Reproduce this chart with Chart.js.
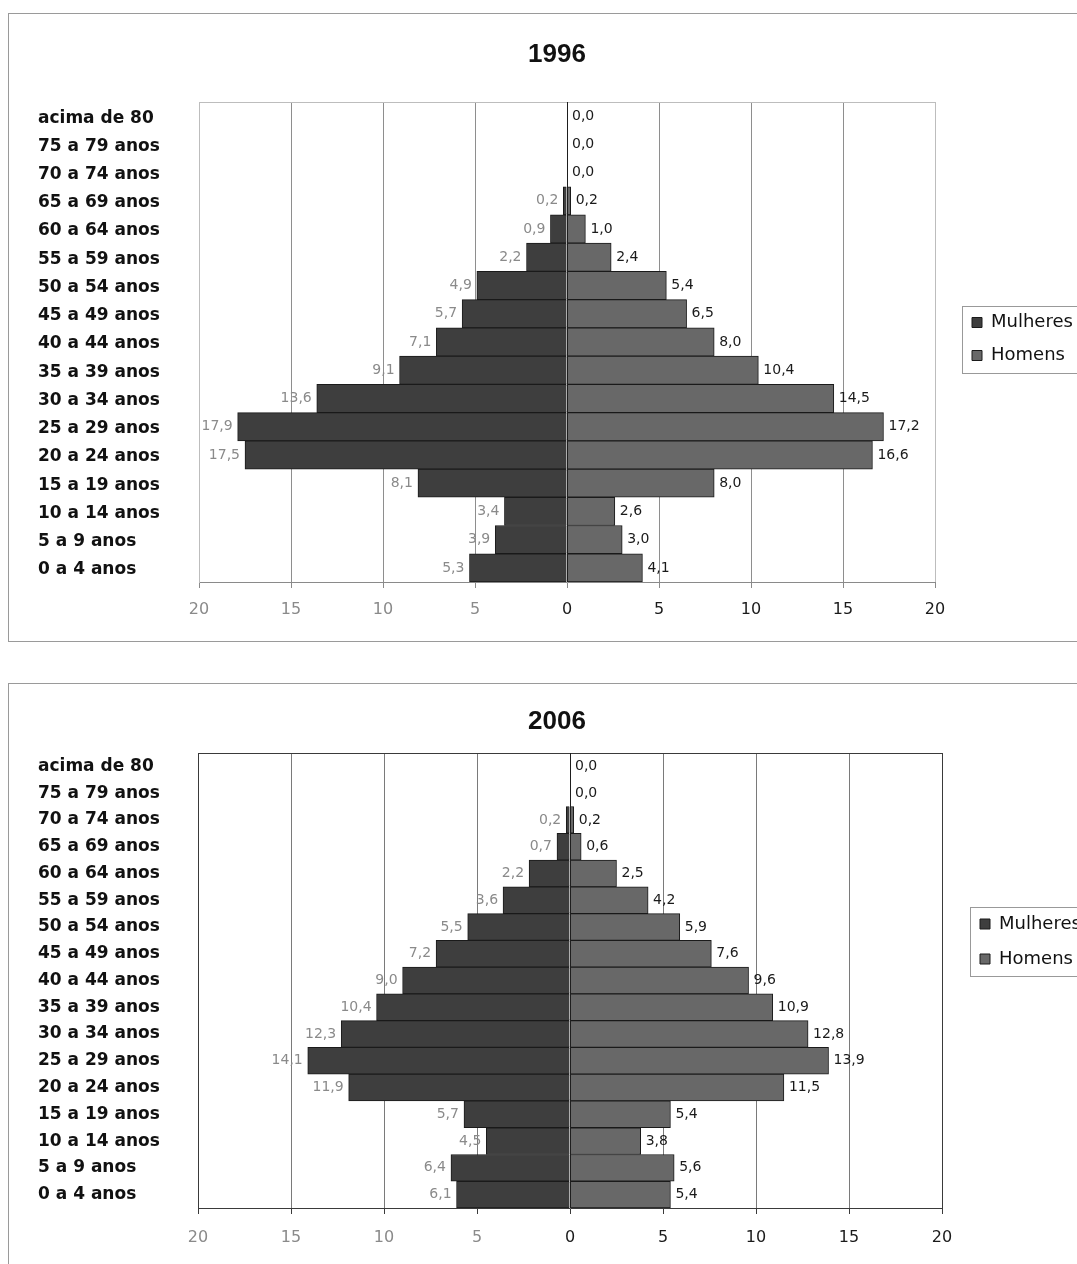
<!DOCTYPE html>
<html>
<head>
<meta charset="utf-8">
<script src="https://cdn.jsdelivr.net/npm/chart.js@4.4.1/dist/chart.umd.min.js"></script>
<style>
  html, body { margin: 0; padding: 0; background: #fff; overflow: hidden; width: 1077px; height: 1264px; }
  .frame { position: absolute; left: 8px; width: 1100px; border: 1.5px solid #9a9a9a; box-sizing: border-box; }
  #box1996 { top: 13px; height: 629px; }
  #box2006 { top: 683px; height: 620px; }
  canvas { position: absolute; left: 8px; }
</style>
</head>
<body>
<div class="frame" id="box1996"></div>
<div class="frame" id="box2006"></div>
<canvas id="chart1996" width="1100" height="628" style="top:13px"></canvas>
<canvas id="chart2006" width="1100" height="597" style="top:683px"></canvas>
<script>
// age groups, top of the pyramid first
const ageGroups = [
  "acima de 80", "75 a 79 anos", "70 a 74 anos", "65 a 69 anos", "60 a 64 anos",
  "55 a 59 anos", "50 a 54 anos", "45 a 49 anos", "40 a 44 anos", "35 a 39 anos",
  "30 a 34 anos", "25 a 29 anos", "20 a 24 anos", "15 a 19 anos", "10 a 14 anos",
  "5 a 9 anos", "0 a 4 anos"
];

// percentages
const mulheres1996 = [0, 0, 0, 0.2, 0.9, 2.2, 4.9, 5.7, 7.1, 9.1, 13.6, 17.9, 17.5, 8.1, 3.4, 3.9, 5.3];
const homens1996 = [0, 0, 0, 0.2, 1.0, 2.4, 5.4, 6.5, 8.0, 10.4, 14.5, 17.2, 16.6, 8.0, 2.6, 3.0, 4.1];
const mulheres2006 = [0, 0, 0.2, 0.7, 2.2, 3.6, 5.5, 7.2, 9.0, 10.4, 12.3, 14.1, 11.9, 5.7, 4.5, 6.4, 6.1];
const homens2006 = [0, 0, 0.2, 0.6, 2.5, 4.2, 5.9, 7.6, 9.6, 10.9, 12.8, 13.9, 11.5, 5.4, 3.8, 5.6, 5.4];

const axisMax = 20;
const axisStep = 5;

Chart.defaults.font.family = "'DejaVu Sans', sans-serif";

function fmt(v) {
  return Math.abs(v).toFixed(1).replace(".", ",");
}

// plot frame, zero line, bar value labels and the boxed legend
const pyramidPlugin = {
  id: "pyramid",
  beforeLayout(chart, args, opts) {
    const lg = chart.legend;
    if (lg && !lg._fixedFit) {
      const fit = lg.fit;
      lg.fit = function () {
        fit.call(this);
        this.width = opts.legendWidth;
      };
      lg._fixedFit = true;
    }
  },
  afterLayout(chart, args, opts) {
    const lg = chart.legend;
    lg.left += opts.legendShiftX;
    lg.right += opts.legendShiftX;
    lg.top += opts.legendShiftY;
    lg.bottom += opts.legendShiftY;
  },
  beforeDatasetsDraw(chart, args, opts) {
    const { ctx, chartArea } = chart;
    ctx.save();
    ctx.strokeStyle = opts.frameColor;
    ctx.lineWidth = 1;
    ctx.beginPath();
    ctx.moveTo(chartArea.left, chartArea.top + 0.5);
    ctx.lineTo(chartArea.right, chartArea.top + 0.5);
    ctx.stroke();
    ctx.restore();
  },
  afterDatasetsDraw(chart) {
    const { ctx, chartArea } = chart;
    ctx.save();
    // vertical axis at zero, over the bars
    const x0 = Math.round(chart.scales.x.getPixelForValue(0)) + 0.5;
    ctx.strokeStyle = "#1e1e1e";
    ctx.lineWidth = 1;
    ctx.beginPath();
    ctx.moveTo(x0, chartArea.top);
    ctx.lineTo(x0, chartArea.bottom);
    ctx.stroke();

    ctx.font = "14px 'DejaVu Sans'";
    ctx.textBaseline = "middle";
    chart.data.datasets.forEach((ds, i) => {
      const meta = chart.getDatasetMeta(i);
      meta.data.forEach((bar, j) => {
        const v = ds.data[j];
        if (ds.labelSide === "left") {
          if (v === 0) return;
          ctx.fillStyle = "#8a8a8a";
          ctx.textAlign = "right";
          ctx.fillText(fmt(v), bar.x - 5, bar.y);
        } else {
          ctx.fillStyle = "#1a1a1a";
          ctx.textAlign = "left";
          ctx.fillText(fmt(v), bar.x + 5, bar.y);
        }
      });
    });
    ctx.restore();
  },
  afterDraw(chart, args, opts) {
    const hb = chart.legend.legendHitBoxes;
    if (!hb || !hb.length) return;
    const ctx = chart.ctx;
    const l = Math.min(...hb.map((h) => h.left)) - 10;
    const t = Math.min(...hb.map((h) => h.top)) - 8;
    const b = Math.max(...hb.map((h) => h.top + h.height)) + 8;
    ctx.save();
    ctx.strokeStyle = opts.legendFrameColor;
    ctx.lineWidth = 1;
    ctx.strokeRect(Math.round(l) + 0.5, Math.round(t) + 0.5, chart.width, Math.round(b - t));
    ctx.restore();
  },
};

function DrawPyramid(canvasId, year, mulheres, homens, look) {
  const canvas = document.getElementById(canvasId);
  return new Chart(canvas, {
    type: "bar",
    data: {
      labels: ageGroups,
      datasets: [
        {
          label: "Mulheres",
          data: mulheres.map((v) => -v),
          labelSide: "left",
          backgroundColor: "#3e3e3e",
          borderColor: "#1a1a1a",
          borderWidth: 1,
        },
        {
          label: "Homens",
          data: homens,
          labelSide: "right",
          backgroundColor: "#686868",
          borderColor: "#1a1a1a",
          borderWidth: 1,
        },
      ],
    },
    plugins: [pyramidPlugin],
    options: {
      indexAxis: "y",
      responsive: false,
      animation: false,
      devicePixelRatio: 1,
      barPercentage: 1,
      categoryPercentage: 1,
      layout: { padding: { left: 30, right: 32, top: 0, bottom: 0 } },
      scales: {
        x: {
          stacked: true,
          min: -axisMax,
          max: axisMax,
          ticks: {
            stepSize: axisStep,
            callback: (v) => Math.abs(v),
            color: (c) => (c.tick && c.tick.value < 0 ? "#8a8a8a" : "#1a1a1a"),
            font: { size: 16 },
            padding: look.tickPadding,
          },
          grid: {
            color: (c) => {
              const v = c.tick ? c.tick.value : 1;
              if (v === 0) return "#2a2a2a";
              if (Math.abs(v) === axisMax) return look.frameColor;
              return look.gridColor;
            },
            lineWidth: 1,
            tickLength: 6,
            tickColor: look.axisColor,
          },
          border: { color: look.axisColor },
          afterFit: (s) => {
            s.height = look.xAxisHeight;
          },
        },
        y: {
          stacked: true,
          grid: { display: false },
          border: { color: look.frameColor },
          ticks: {
            crossAlign: "far",
            autoSkip: false,
            labelOffset: look.labelOffset,
            color: "#111",
            font: { size: 17, weight: "bold" },
          },
          afterFit: (s) => {
            s.width = look.yAxisWidth;
          },
        },
      },
      plugins: {
        title: {
          display: true,
          text: year,
          color: "#111",
          font: { family: "'Liberation Sans', Arial, sans-serif", size: 26, weight: "bold" },
          padding: look.titlePadding,
        },
        legend: {
          position: "right",
          fullSize: false,
          labels: {
            boxWidth: 10,
            boxHeight: 10,
            padding: look.legendPadding,
            color: "#111",
            font: { size: 18 },
          },
        },
        tooltip: { enabled: false },
        pyramid: {
          legendWidth: look.legendWidth,
          legendShiftX: look.legendShiftX,
          legendShiftY: look.legendShiftY,
          frameColor: look.frameColor,
          legendFrameColor: "#999",
        },
      },
    },
  });
}

DrawPyramid("chart1996", "1996", mulheres1996, homens1996, {
  frameColor: "#bdbdbd",
  gridColor: "#8e8e8e",
  axisColor: "#8a8a8a",
  tickPadding: 12,
  xAxisHeight: 59,
  yAxisWidth: 161,
  labelOffset: 2,
  titlePadding: { top: 26.4, bottom: 31.4 },
  legendWidth: 141,
  legendPadding: 15,
  legendShiftX: 22,
  legendShiftY: -3,
});

DrawPyramid("chart2006", "2006", mulheres2006, homens2006, {
  frameColor: "#3a3a3a",
  gridColor: "#7a7a7a",
  axisColor: "#3a3a3a",
  tickPadding: 14,
  xAxisHeight: 72,
  yAxisWidth: 160,
  labelOffset: 0,
  titlePadding: { top: 23.4, bottom: 15.4 },
  legendWidth: 134,
  legendPadding: 17,
  legendShiftX: 21,
  legendShiftY: -39,
});
</script>
</body>
</html>
